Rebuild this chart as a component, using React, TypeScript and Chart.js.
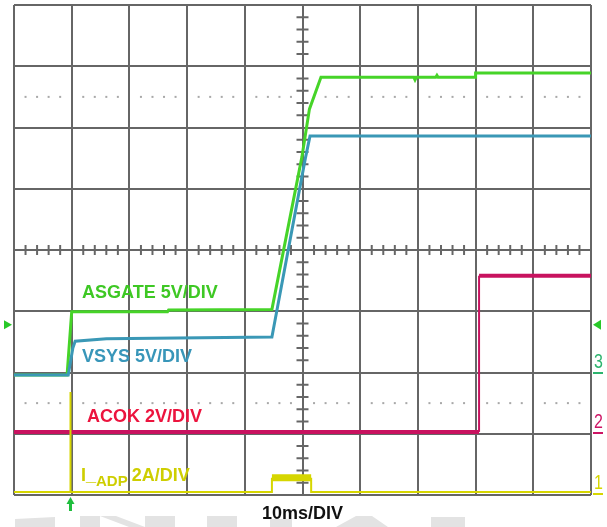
import React, { useEffect, useRef } from 'react';
import { Chart, registerables } from 'chart.js';

Chart.register(...registerables);

// Values in oscilloscope divisions (x: 0..10 div at 10ms/DIV, y: 0..8 div)
const asgateX = [0, 0.92, 1.0, 2.66, 2.68, 4.47, 4.99, 5.12, 5.32, 6.93, 6.95, 6.97, 7.31, 7.33, 7.35, 7.99, 8.0, 10];
const asgateY = [1.96, 1.96, 2.99, 2.99, 3.02, 3.03, 5.52, 6.3, 6.82, 6.82, 6.78, 6.82, 6.82, 6.85, 6.82, 6.82, 6.89, 6.89];

const vsysX = [0, 0.94, 1.02, 1.06, 1.6, 4.47, 5.05, 5.13, 10];
const vsysY = [1.96, 1.96, 2.4, 2.51, 2.55, 2.58, 5.5, 5.86, 5.86];

const acokX = [0, 8.06, 8.06, 10];
const acokY = [1.03, 1.03, 3.58, 3.58];

const iadpX = [0, 0.979, 0.979, 0.979, 4.47, 4.47, 5.15, 5.15, 10];
const iadpY = [0.05, 0.05, 1.68, 0.05, 0.05, 0.28, 0.28, 0.05, 0.05];

const xDivs = 10;
const yDivs = 8;

const traceLabels = ['ASGATE 5V/DIV', 'VSYS 5V/DIV', 'ACOK 2V/DIV'];
const timebase = '10ms/DIV';

const GREEN = 'rgb(70, 212, 40)';
const BLUE = 'rgb(58, 152, 182)';
const MAGENTA = 'rgb(200, 18, 95)';
const YELLOW = 'rgb(214, 214, 0)';
const GRID = '#666666';

const pts = (xs: number[], ys: number[]) => xs.map((x, i) => ({ x, y: ys[i] }));

const scopePlugin = {
  id: 'scope',
  beforeDatasetsDraw(chart: any) {
    const { ctx, scales } = chart;
    const xs = scales.x;
    const ys = scales.y;
    ctx.save();
    ctx.strokeStyle = GRID;
    ctx.lineWidth = 2;
    const cx = xs.getPixelForValue(xDivs / 2);
    const cy = ys.getPixelForValue(yDivs / 2);
    for (let i = 1; i < yDivs * 5; i++) {
      if (i % 5 === 0) continue;
      const py = ys.getPixelForValue(i / 5);
      ctx.beginPath();
      ctx.moveTo(cx - 6, py);
      ctx.lineTo(cx + 6, py);
      ctx.stroke();
    }
    for (let i = 1; i < xDivs * 5; i++) {
      if (i % 5 === 0) continue;
      const px = xs.getPixelForValue(i / 5);
      ctx.beginPath();
      ctx.moveTo(px, cy - 5);
      ctx.lineTo(px, cy + 5);
      ctx.stroke();
    }
    ctx.fillStyle = '#a8a8a8';
    [1.5, 6.5].forEach((v) => {
      const py = ys.getPixelForValue(v);
      for (let i = 1; i < xDivs * 5; i++) {
        if (i % 5 === 0) continue;
        const px = xs.getPixelForValue(i / 5);
        ctx.fillRect(px - 1, py - 1, 2, 2);
      }
    });
    ctx.restore();
  },
  afterDraw(chart: any) {
    const { ctx, scales } = chart;
    const xs = scales.x;
    const ys = scales.y;
    ctx.save();
    ctx.fillStyle = '#e3e3e3';
    const polys: number[][] = [
      [15, 519, 55, 517, 55, 527, 15, 527],
      [80, 516, 100, 516, 100, 527, 80, 527],
      [100, 516, 116, 516, 145, 527, 129, 527],
      [145, 516, 175, 516, 175, 527, 145, 527],
      [207, 516, 237, 516, 237, 527, 207, 527],
      [270, 519, 292, 519, 292, 527, 270, 527],
      [356, 516, 372, 516, 388, 527, 336, 527],
      [431, 517, 465, 517, 465, 527, 431, 527],
    ];
    polys.forEach((p) => {
      ctx.beginPath();
      ctx.moveTo(p[0], p[1]);
      for (let i = 2; i < p.length; i += 2) ctx.lineTo(p[i], p[i + 1]);
      ctx.closePath();
      ctx.fill();
    });

    const bold = (s: number) => `bold ${s}px "Liberation Sans", Arial, sans-serif`;
    ctx.textBaseline = 'alphabetic';
    ctx.textAlign = 'left';
    ctx.font = bold(18);
    ctx.fillStyle = 'rgb(62, 200, 36)';
    ctx.fillText(traceLabels[0], 82, 298);
    ctx.fillStyle = 'rgb(56, 150, 185)';
    ctx.fillText(traceLabels[1], 82, 362);
    ctx.fillStyle = 'rgb(236, 20, 62)';
    ctx.fillText(traceLabels[2], 87, 422);
    ctx.fillStyle = 'rgb(206, 206, 0)';
    ctx.fillText('I_', 81, 481);
    const w = ctx.measureText('I_').width;
    ctx.font = bold(15);
    ctx.fillText('ADP', 81 + w, 486);
    const w2 = ctx.measureText('ADP ').width;
    ctx.font = bold(18);
    ctx.fillText('2A/DIV', 81 + w + w2, 481);
    ctx.fillStyle = '#111';
    ctx.fillText(timebase, 262, 519);

    ctx.fillStyle = 'rgb(40, 200, 40)';
    const ty = ys.getPixelForValue(2.78);
    ctx.beginPath();
    ctx.moveTo(4, ty - 4.5);
    ctx.lineTo(12, ty);
    ctx.lineTo(4, ty + 4.5);
    ctx.closePath();
    ctx.fill();
    ctx.beginPath();
    ctx.moveTo(601, ty - 5);
    ctx.lineTo(593, ty);
    ctx.lineTo(601, ty + 5);
    ctx.closePath();
    ctx.fill();

    const ax = xs.getPixelForValue(0.979);
    ctx.fillStyle = 'rgb(30, 190, 60)';
    ctx.beginPath();
    ctx.moveTo(ax, 497);
    ctx.lineTo(ax - 4, 504);
    ctx.lineTo(ax + 4, 504);
    ctx.closePath();
    ctx.fill();
    ctx.fillRect(ax - 1.5, 502, 3, 9);

    ctx.font = '20px "Liberation Sans", Arial, sans-serif';
    const chans: [string, string, number][] = [
      ['3', 'rgb(45, 180, 110)', 373],
      ['2', 'rgb(205, 20, 100)', 433],
      ['1', 'rgb(214, 214, 0)', 494],
    ];
    chans.forEach(([t, c, y]) => {
      ctx.fillStyle = c;
      ctx.save();
      ctx.translate(594, y - 5);
      ctx.scale(0.8, 1.05);
      ctx.fillText(t, 0, 0);
      ctx.restore();
      ctx.fillRect(593, y - 1, 10, 2);
    });
    ctx.restore();
  },
};

export default function App() {
  const ref = useRef<HTMLCanvasElement | null>(null);
  useEffect(() => {
    if (!ref.current) return;
    const chart = new Chart(ref.current, {
      type: 'scatter',
      data: {
        datasets: [
          {
            label: 'I_ADP',
            data: pts(iadpX, iadpY),
            showLine: true,
            borderColor: YELLOW,
            borderWidth: 2,
            pointRadius: 0,
            order: 0,
            segment: {
              borderWidth: (c: any) => (c.p0.parsed.y > 0.2 && c.p1.parsed.y > 0.2 && c.p0.parsed.y < 1 ? 7 : 2),
            },
          } as any,
          {
            label: 'ACOK',
            data: pts(acokX, acokY),
            showLine: true,
            borderColor: MAGENTA,
            borderWidth: 4,
            pointRadius: 0,
            order: 1,
            segment: {
              borderWidth: (c: any) => (c.p0.parsed.x === c.p1.parsed.x ? 2 : 4),
            },
          } as any,
          {
            label: 'VSYS',
            data: pts(vsysX, vsysY),
            showLine: true,
            borderColor: BLUE,
            borderWidth: 3,
            pointRadius: 0,
            order: 2,
          },
          {
            label: 'ASGATE',
            data: pts(asgateX, asgateY),
            showLine: true,
            borderColor: GREEN,
            borderWidth: 3,
            pointRadius: 0,
            order: 3,
          },
        ],
      },
      options: {
        animation: false,
        responsive: false,
        events: [],
        layout: { padding: { left: 14, right: 16, top: 5, bottom: 32 } },
        plugins: { legend: { display: false }, tooltip: { enabled: false } },
        scales: {
          x: {
            type: 'linear',
            min: 0,
            max: xDivs,
            ticks: { display: false, stepSize: 1 },
            grid: { color: GRID, lineWidth: 2, drawTicks: false },
            border: { display: false },
          },
          y: {
            type: 'linear',
            min: 0,
            max: yDivs,
            ticks: { display: false, stepSize: 1 },
            grid: { color: GRID, lineWidth: 2, drawTicks: false },
            border: { display: false },
          },
        },
      },
      plugins: [scopePlugin],
    });
    return () => chart.destroy();
  }, []);
  return (
    <div style={{ position: 'fixed', left: 0, top: 0, width: 607, height: 527, background: '#fff' }}>
      <canvas ref={ref} width={607} height={527} style={{ width: 607, height: 527, display: 'block' }} />
    </div>
  );
}
